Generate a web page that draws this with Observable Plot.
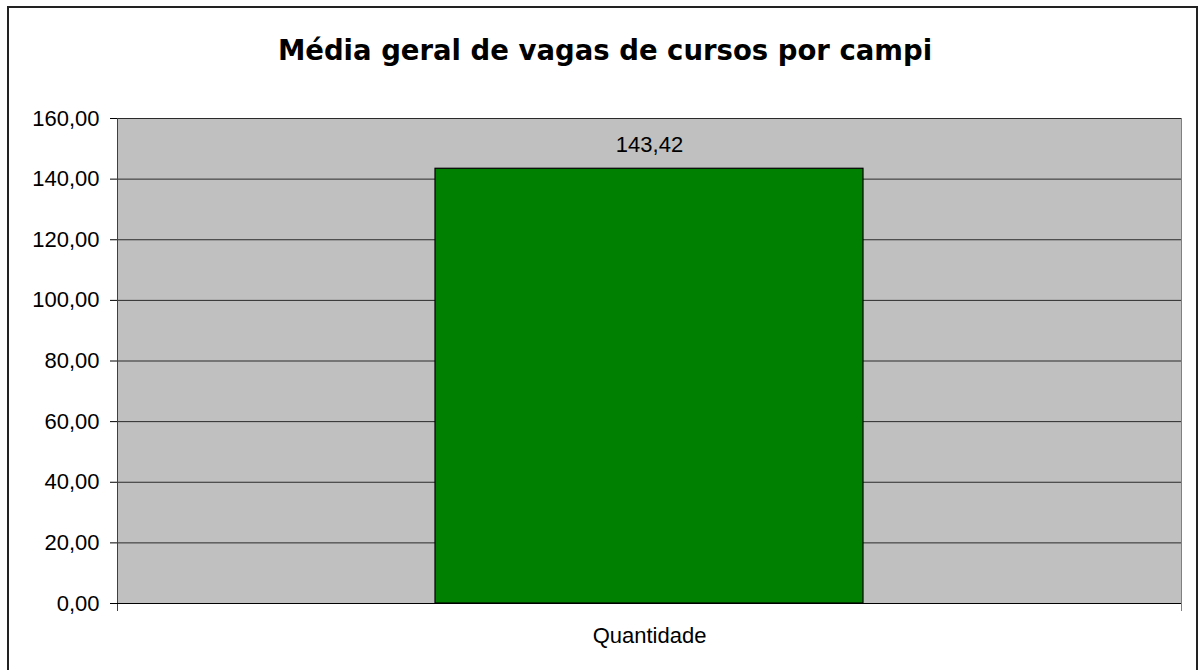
<!DOCTYPE html>
<html>
<head>
<meta charset="utf-8">
<script src="https://cdn.jsdelivr.net/npm/d3@7"></script>
<script src="https://cdn.jsdelivr.net/npm/@observablehq/plot@0.6"></script>
<style>
  html, body { margin: 0; padding: 0; background: #fff; overflow: hidden; }
  #wrap { position: relative; width: 1199px; height: 670px; overflow: hidden; }
  #border { position: absolute; left: 7px; top: 6px; width: 1191px; height: 700px; border: 2px solid #222; box-sizing: border-box; }
  #title { position: absolute; left: 0; top: 34px; width: 1210px; text-align: center;
           font-family: "DejaVu Sans", Verdana, sans-serif; font-weight: bold; font-size: 27.5px; color: #000; line-height: 32px; }
  #chart { position: absolute; left: 0; top: 0; }
</style>
</head>
<body>
<div id="wrap">
  <div id="border"></div>
  <div id="title">Média geral de vagas de cursos por campi</div>
  <div id="chart"></div>
</div>
<script>
const categories = ["Quantidade"];
const values = [143.42];
const yTicks = [0, 20, 40, 60, 80, 100, 120, 140, 160];

const data = categories.map((c, i) => ({category: c, value: values[i]}));
const fmt = d => d.toFixed(2).replace(".", ",");

const chart = Plot.plot({
  width: 1199,
  height: 670,
  marginLeft: 117,
  marginRight: 18,
  marginTop: 118,
  marginBottom: 67,
  style: {fontFamily: "'Liberation Sans', Arial, sans-serif", fontSize: "22px", color: "#000", background: "transparent"},
  x: {domain: categories, padding: 0, label: null},
  y: {domain: [0, 160], ticks: yTicks, label: null},
  marks: [
    Plot.frame({fill: "#C0C0C0", stroke: "#808080"}),
    Plot.gridY(yTicks, {stroke: "#2a2a2a", strokeOpacity: 1}),
    Plot.barY(data, {x: "category", y: "value", fill: "#008000", stroke: "#000", strokeWidth: 1.2, insetLeft: 318, insetRight: 318}),
    Plot.text(data, {x: "category", y: "value", text: d => fmt(d.value), lineAnchor: "bottom", dy: -17, fontSize: 22, fill: "#000"}),
    Plot.frame({anchor: "left", stroke: "#404040", insetBottom: -7}),
    Plot.frame({anchor: "right", stroke: "#808080", insetBottom: -7}),
    Plot.ruleY([0], {stroke: "#000"}),
    Plot.axisY(yTicks, {tickFormat: fmt, tickSize: 7, tickPadding: 11, fontSize: 22, stroke: "#000", fill: "#000"}),
    Plot.axisX({tickSize: 0, tickPadding: 24, fontSize: 22, fill: "#000"})
  ]
});
document.getElementById("chart").appendChild(chart);
</script>
</body>
</html>
